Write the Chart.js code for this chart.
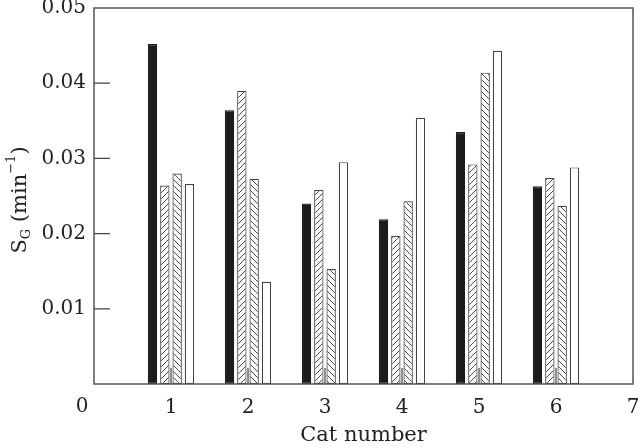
<!DOCTYPE html>
<html>
<head>
<meta charset="utf-8">
<script src="https://cdn.jsdelivr.net/npm/chart.js@4/dist/chart.umd.min.js"></script>
<style>
  html, body { margin: 0; padding: 0; background: #fff; }
  #wrap { width: 640px; height: 448px; }
</style>
</head>
<body>
<div id="wrap"><canvas id="c" width="640" height="448"></canvas></div>
<script>
// ---- data ----
const categories = [1, 2, 3, 4, 5, 6];
const xTicks = [0, 1, 2, 3, 4, 5, 6, 7];
const yTicks = [0, 0.01, 0.02, 0.03, 0.04, 0.05];
const seriesBlack  = [0.0452, 0.0364, 0.0240, 0.0219, 0.0335, 0.0263];
const seriesHatchA = [0.0264, 0.0390, 0.0258, 0.0197, 0.0292, 0.0274];
const seriesHatchB = [0.0280, 0.0273, 0.0153, 0.0243, 0.0414, 0.0237];
const seriesWhite  = [0.0266, 0.0136, 0.0295, 0.0354, 0.0443, 0.0288];
const xTitle = 'Cat number';

const FONT = '"DejaVu Serif", "Liberation Serif", serif';
const INK = '#222';
const EDGE = '#444';

function hatch(dir) {
  const s = 6;
  const c = document.createElement('canvas');
  c.width = s; c.height = s;
  const g = c.getContext('2d');
  g.fillStyle = '#fff';
  g.fillRect(0, 0, s, s);
  g.strokeStyle = '#333';
  g.lineWidth = 0.9;
  g.beginPath();
  if (dir === '/') {
    g.moveTo(-1, s + 1); g.lineTo(s + 1, -1);
    g.moveTo(-1, 1); g.lineTo(1, -1);
    g.moveTo(s - 1, s + 1); g.lineTo(s + 1, s - 1);
  } else {
    g.moveTo(-1, -1); g.lineTo(s + 1, s + 1);
    g.moveTo(s - 1, -1); g.lineTo(s + 1, 1);
    g.moveTo(-1, s - 1); g.lineTo(1, s + 1);
  }
  g.stroke();
  return g.createPattern(c, 'repeat');
}

const pts = arr => categories.map((c, i) => ({ x: c, y: arr[i] }));

const common = { borderWidth: 1.2, categoryPercentage: 0.64, barPercentage: 0.76, borderSkipped: false };

const framePlugin = {
  id: 'frame',
  afterDatasetsDraw(chart) {
    const { ctx, chartArea: a, scales } = chart;
    ctx.save();
    ctx.strokeStyle = '#555';
    ctx.lineWidth = 1.5;
    ctx.strokeRect(a.left, a.top, a.right - a.left, a.bottom - a.top);
    ctx.lineWidth = 1.2;
    ctx.strokeStyle = EDGE;
    ctx.beginPath();
    xTicks.forEach(v => {
      if (v <= xTicks[0] || v >= xTicks[xTicks.length - 1]) return;
      const px = scales.x.getPixelForValue(v);
      ctx.moveTo(px, a.bottom); ctx.lineTo(px, a.bottom - 16);
    });
    yTicks.forEach(v => {
      if (v <= yTicks[0] || v >= yTicks[yTicks.length - 1]) return;
      const py = scales.y.getPixelForValue(v);
      ctx.moveTo(a.left, py); ctx.lineTo(a.left + 16, py);
    });
    ctx.stroke();
    // shared corner zero
    ctx.fillStyle = INK;
    ctx.font = '20px ' + FONT;
    ctx.textAlign = 'center';
    ctx.textBaseline = 'middle';
    ctx.fillText(String(xTicks[0]), a.left - 12, a.bottom + 23);
    // y title with subscript / superscript
    const cx = 26, cy = (a.top + a.bottom) / 2 + 4;
    ctx.translate(cx, cy);
    ctx.rotate(-Math.PI / 2);
    ctx.textAlign = 'left';
    ctx.textBaseline = 'alphabetic';
    const parts = [
      { t: 'S', f: 21, dy: 0 },
      { t: 'G', f: 13, dy: 4 },
      { t: ' (min', f: 21, dy: 0 },
      { t: '\u2212' + '1', f: 13, dy: -11 },
      { t: ')', f: 21, dy: 0 }
    ];
    let w = 0;
    parts.forEach(p => { ctx.font = p.f + 'px ' + FONT; p.w = ctx.measureText(p.t).width; w += p.w; });
    let x = -w / 2;
    parts.forEach(p => { ctx.font = p.f + 'px ' + FONT; ctx.fillText(p.t, x, p.dy); x += p.w; });
    ctx.restore();
  }
};

new Chart(document.getElementById('c'), {
  type: 'bar',
  data: {
    datasets: [
      Object.assign({ data: pts(seriesBlack),  backgroundColor: '#1c1c1c', borderColor: '#1c1c1c' }, common),
      Object.assign({ data: pts(seriesHatchA), backgroundColor: hatch('/'), borderColor: EDGE }, common),
      Object.assign({ data: pts(seriesHatchB), backgroundColor: hatch('\\'), borderColor: EDGE }, common),
      Object.assign({ data: pts(seriesWhite),  backgroundColor: '#fff', borderColor: EDGE }, common)
    ]
  },
  plugins: [framePlugin],
  options: {
    responsive: false,
    animation: false,
    devicePixelRatio: 1,
    layout: { padding: { top: 8, right: 7, left: 0, bottom: 0 } },
    plugins: { legend: { display: false }, tooltip: { enabled: false } },
    scales: {
      x: {
        type: 'linear',
        min: xTicks[0],
        max: xTicks[xTicks.length - 1],
        offset: false,
        afterBuildTicks: s => { s.ticks = xTicks.map(v => ({ value: v })); },
        afterFit: s => { s.height = 64; s.paddingRight = 0; s.paddingLeft = 0; },
        grid: { display: false, drawTicks: false },
        border: { display: false },
        ticks: {
          padding: 12,
          color: INK,
          font: { family: FONT, size: 20 },
          callback: v => (v === xTicks[0] ? '' : String(v))
        },
        title: {
          display: true,
          text: xTitle,
          color: INK,
          font: { family: FONT, size: 21 },
          padding: { top: 0, bottom: 0 }
        }
      },
      y: {
        min: yTicks[0],
        max: yTicks[yTicks.length - 1],
        afterBuildTicks: s => { s.ticks = yTicks.map(v => ({ value: v })); },
        afterFit: s => { s.width = 94; s.paddingTop = 0; s.paddingBottom = 0; },
        grid: { display: false, drawTicks: false },
        border: { display: false },
        ticks: {
          padding: 8,
          color: INK,
          font: { family: FONT, size: 20 },
          callback: v => (v === yTicks[0] ? '' : v.toFixed(2))
        }
      }
    }
  }
});
</script>
</body>
</html>
